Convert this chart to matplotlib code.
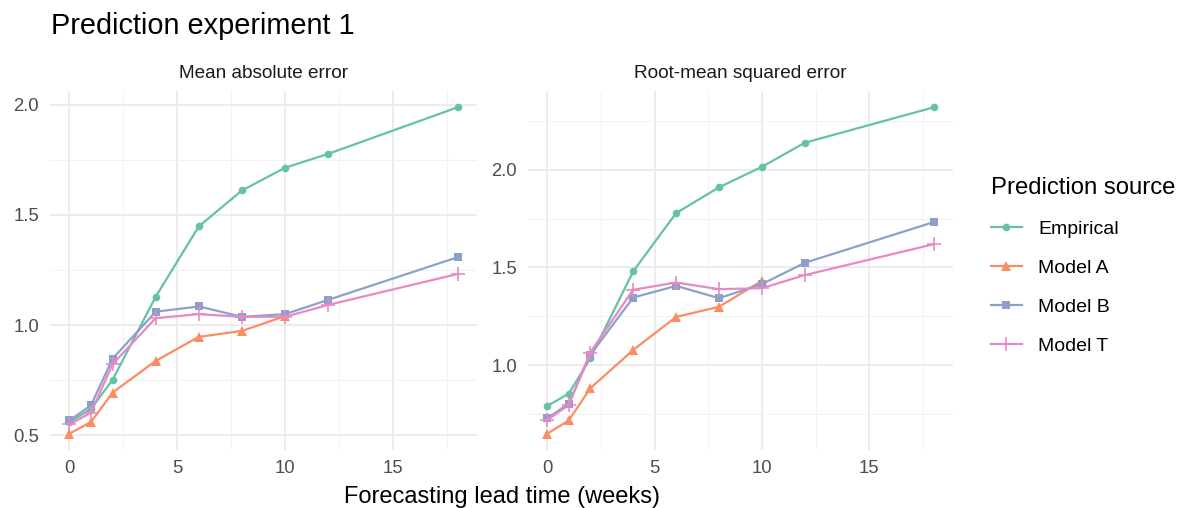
import matplotlib
matplotlib.use("Agg")
import matplotlib.pyplot as plt
from matplotlib.lines import Line2D

plt.rcParams['font.family'] = ['Liberation Sans', 'DejaVu Sans']

lead = [0, 1, 2, 4, 6, 8, 10, 12, 18]
lead_a = [0, 1, 2, 4, 6, 8, 10]

# mean absolute error
mae_emp = [0.56, 0.62, 0.752, 1.129, 1.448, 1.611, 1.714, 1.777, 1.988]
mae_a = [0.508, 0.561, 0.694, 0.838, 0.947, 0.974, 1.041]
mae_b = [0.568, 0.636, 0.848, 1.061, 1.085, 1.038, 1.050, 1.115, 1.308]
mae_t = [0.550, 0.603, 0.823, 1.032, 1.050, 1.038, 1.038, 1.092, 1.232]

# root-mean squared error
rmse_emp = [0.792, 0.855, 1.036, 1.480, 1.778, 1.910, 2.015, 2.138, 2.319]
rmse_a = [0.650, 0.718, 0.882, 1.078, 1.247, 1.299, 1.432]
rmse_b = [0.729, 0.804, 1.053, 1.346, 1.406, 1.343, 1.415, 1.524, 1.732]
rmse_t = [0.720, 0.797, 1.065, 1.386, 1.423, 1.389, 1.394, 1.461, 1.619]

names = ["Empirical", "Model A", "Model B", "Model T"]
colors = ["#66C2A5", "#FC8D62", "#8DA0CB", "#E78AC3"]
markers = ["o", "^", "s", "+"]
msizes = [5.5, 7, 6, 10]

W, H = 1187, 508
fig = plt.figure(figsize=(W / 100, H / 100), dpi=100)


def px(x0, y0, x1, y1):
    return [x0 / W, 1 - y1 / H, (x1 - x0) / W, (y1 - y0) / H]


def panel(ax, series, title, yticks, yminor):
    for i, (xs, ys) in enumerate(series):
        ax.plot(xs, ys, color=colors[i], lw=1.6, marker=markers[i],
                ms=msizes[i], mew=1.2 if markers[i] == "+" else 0, zorder=3 + i * 0.1)
    lo = min(min(s[1]) for s in series)
    hi = max(max(s[1]) for s in series)
    pad = (hi - lo) * 0.05
    ax.set_ylim(lo - pad, hi + pad)
    ax.set_xlim(-0.9, 18.9)
    ax.set_xticks([0, 5, 10, 15])
    ax.set_xticks([2.5, 7.5, 12.5, 17.5], minor=True)
    ax.set_yticks(yticks)
    ax.set_yticks(yminor, minor=True)
    ax.set_yticklabels(["%.1f" % v for v in yticks])
    ax.grid(which="major", color="#EBEBEB", lw=1.3)
    ax.grid(which="minor", color="#F2F2F2", lw=0.8)
    ax.set_axisbelow(True)
    for s in ax.spines.values():
        s.set_visible(False)
    ax.tick_params(which="both", length=0, labelsize=13.3, labelcolor="#4D4D4D")
    ax.tick_params(axis="y", pad=8)
    ax.tick_params(axis="x", pad=7)
    ax.text(0.5, 1 - (78 - 91) / 359, title, transform=ax.transAxes,
            fontsize=13.7, color="#1A1A1A", ha="center", va="baseline")


ax1 = fig.add_axes(px(50, 91, 477, 450))
panel(ax1, [(lead, mae_emp), (lead_a, mae_a), (lead, mae_b), (lead, mae_t)],
      "Mean absolute error", [0.5, 1.0, 1.5, 2.0], [0.75, 1.25, 1.75])

ax2 = fig.add_axes(px(528, 91, 953, 450))
panel(ax2, [(lead, rmse_emp), (lead_a, rmse_a), (lead, rmse_b), (lead, rmse_t)],
      "Root-mean squared error", [1.0, 1.5, 2.0], [0.75, 1.25, 1.75, 2.25])

fig.text(51 / W, 1 - 34 / H, "Prediction experiment 1", fontsize=20.8,
         ha="left", va="baseline", color="black")
fig.text(502 / W, 1 - 503 / H, "Forecasting lead time (weeks)", fontsize=17,
         ha="center", va="baseline", color="black")

handles = [Line2D([], [], color=c, marker=m, ms=s, lw=1.6,
                  mew=1.2 if m == "+" else 0)
           for c, m, s in zip(colors, markers, msizes)]
leg = fig.legend(handles, names, loc="upper left", bbox_to_anchor=(975 / W, 1 - 161 / H),
                 frameon=False, fontsize=14, title="Prediction source",
                 title_fontsize=17.2, handlelength=1.6, labelspacing=1.1,
                 handletextpad=0.85, borderpad=0.3)
leg._legend_box.align = "left"

fig.savefig("out.png", dpi=100)
